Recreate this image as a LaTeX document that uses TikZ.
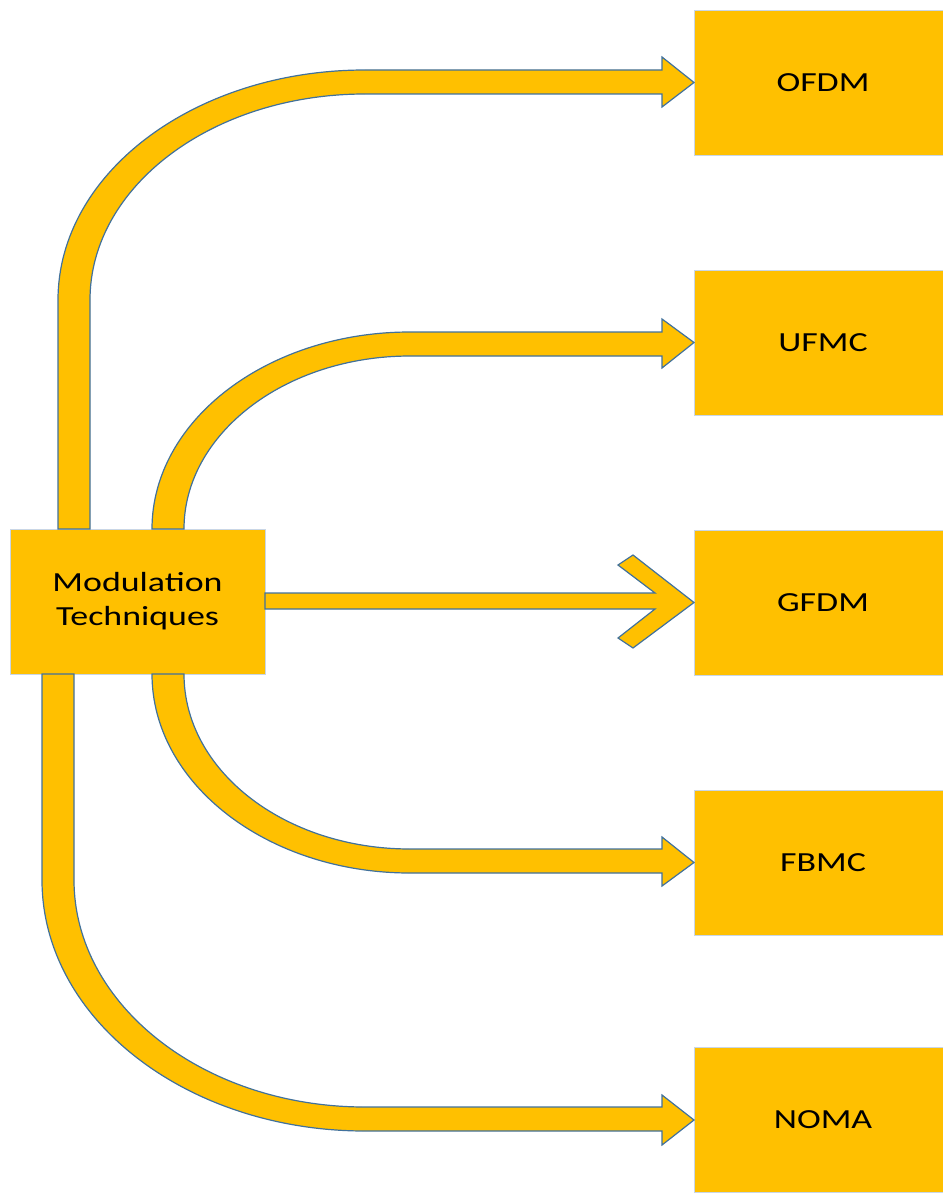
\documentclass[tikz,border=0pt]{standalone}
\usepackage{fontspec}
\setmainfont{Carlito}[FakeStretch=1.3]
\usetikzlibrary{calc}
\definecolor{amber}{HTML}{FFC000}
\definecolor{edgeblue}{HTML}{41719C}
\definecolor{paleedge}{HTML}{C9D6E6}
\begin{document}
\begin{tikzpicture}[
  x=0.5pt, y=-0.5pt,
  box/.style={fill=amber, draw=paleedge, line width=0.4pt, inner sep=0pt, outer sep=0pt,
    minimum width=129pt, minimum height=72.5pt, align=center,
    font=\fontsize{13.8}{17}\selectfont},
  band/.style={fill=amber, draw=edgeblue, line width=0.6pt, line join=miter}
]
\useasboundingbox (0,0) rectangle (942,1193);
\node[box, minimum width=127.5pt] (mod) at (137.5,601.5) {Modulation\\Techniques};
\node[box] (ofdm) at (823,82.5)  {OFDM};
\node[box] (ufmc) at (823,342.5) {UFMC};
\node[box] (gfdm) at (823,602.5) {GFDM};
\node[box] (fbmc) at (823,862.5) {FBMC};
\node[box] (noma) at (823,1120)  {NOMA};
% curved block arrows
\draw[band] ($(mod.north west)+(48,0)$) -- (58,300) .. controls (58,173) and (195,70) .. (365,70)
  -- (662,70) -- (662,57) -- (ofdm.west) -- (662,107) -- (662,94) -- (365,94)
  .. controls (213,94) and (90,186) .. (90,300) -- ($(mod.north west)+(80,0)$) -- cycle;
\draw[band] ($(mod.north west)+(142,0)$) .. controls (152,420) and (268,332) .. (410,332)
  -- (662,332) -- (662,319) -- (ufmc.west) -- (662,368) -- (662,356) -- (410,356)
  .. controls (285,356) and (184,434) .. ($(mod.north west)+(174,0)$) -- cycle;
\draw[band] ($(mod.east)+(0,-8.5)$) -- (655,593) -- (618,565) -- (633,555) -- (gfdm.west)
  -- (633,648) -- (618,638) -- (655,609) -- ($(mod.east)+(0,7.5)$) -- cycle;
\draw[band] ($(mod.south west)+(142,0)$) .. controls (152,784) and (268,873) .. (410,873)
  -- (662,873) -- (662,886) -- (fbmc.west) -- (662,837) -- (662,849) -- (410,849)
  .. controls (285,849) and (184,771) .. ($(mod.south west)+(174,0)$) -- cycle;
\draw[band] ($(mod.south west)+(32,0)$) -- (42,880) .. controls (42,1019) and (187,1131) .. (365,1131)
  -- (662,1131) -- (662,1145) -- (noma.west) -- (662,1095) -- (662,1107) -- (365,1107)
  .. controls (204,1107) and (74,1005) .. (74,880) -- ($(mod.south west)+(64,0)$) -- cycle;
\end{tikzpicture}
\end{document}
